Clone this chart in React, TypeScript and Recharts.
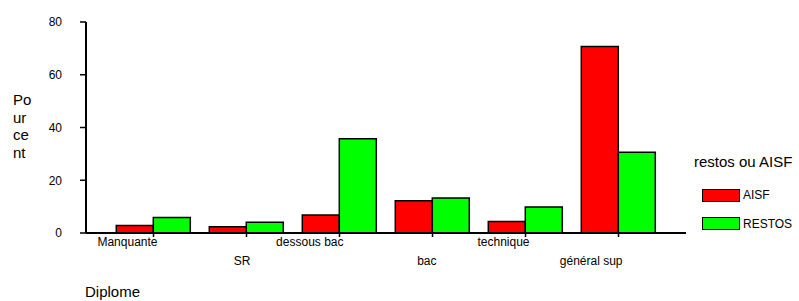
import { Bar, BarChart, Legend, XAxis, YAxis } from "recharts";

const categories = ["Manquante", "SR", "dessous bac", "bac", "technique", "général sup"];
const aisf = [2.8, 2.4, 6.8, 12.2, 4.4, 70.7];
const restos = [5.9, 4.1, 35.7, 13.3, 9.9, 30.6];
const yTicks = [0, 20, 40, 60, 80];

const data = categories.map((c, i) => ({ cat: c, AISF: aisf[i], RESTOS: restos[i] }));

const font = "'Liberation Sans', Arial, sans-serif";

function StaggerTick(props: any) {
	const { x, y, payload, index } = props;
	return (
		<text
			x={x + 4}
			y={y}
			dy={index % 2 === 0 ? 9 : 28}
			textAnchor="end"
			fontSize={12}
			fontFamily={font}
			fill="#000"
		>
			{payload.value}
		</text>
	);
}

function YTitle(props: any) {
	const parts = ["Po", "ur", "ce", "nt"];
	return (
		<text x={13} y={105} fontSize={15} fontFamily={font} fill="#000">
			{parts.map((p, i) => (
				<tspan key={p} x={13} y={105 + i * 17.5}>
					{p}
				</tspan>
			))}
		</text>
	);
}

function XTitle(props: any) {
	const { viewBox } = props;
	return (
		<text x={viewBox.x - 1} y={viewBox.y + 64} fontSize={15} fontFamily={font} fill="#000">
			Diplome
		</text>
	);
}

function LegendBox(props: any) {
	const { payload } = props;
	return (
		<div style={{ fontFamily: font, color: "#000", position: "relative" }}>
			<div style={{ fontSize: 15, lineHeight: "18px", whiteSpace: "nowrap" }}>restos ou AISF</div>
			{(payload ?? []).map((p: any, i: number) => (
				<div
					key={p.value}
					style={{
						position: "absolute",
						left: 8,
						top: 35 + i * 28.5,
						display: "flex",
						alignItems: "center",
						fontSize: 12,
					}}
				>
					<span
						style={{
							display: "inline-block",
							width: 36,
							height: 11,
							background: p.color,
							border: "1px solid #000",
							marginRight: 3,
						}}
					/>
					{p.value}
				</div>
			))}
		</div>
	);
}

export default function App() {
	return (
		<div style={{ position: "absolute", left: 0, top: 0, background: "#fff" }}>
			<BarChart
				width={799}
				height={301}
				data={data}
				margin={{ top: 22, right: 113, bottom: 0, left: 0 }}
				barCategoryGap="10%"
				barGap={0}
			>
				<XAxis
					dataKey="cat"
					height={68}
					interval={0}
					padding={{ left: 21, right: 21 }}
					tick={<StaggerTick />}
					tickSize={4}
					tickMargin={0}
					axisLine={{ stroke: "#000", strokeWidth: 2 }}
					tickLine={{ stroke: "#000", strokeWidth: 1.5 }}
					label={<XTitle />}
				/>
				<XAxis
					xAxisId="top"
					orientation="top"
					dataKey="cat"
					height={0}
					tick={false}
					tickLine={false}
					axisLine={{ stroke: "#111", strokeWidth: 1.5 }}
				/>
				<YAxis
					width={86}
					domain={[0, 80]}
					ticks={yTicks}
					tickSize={6}
					tickMargin={18}
					tick={{ fontSize: 12, fontFamily: font, fill: "#000" }}
					axisLine={{ stroke: "#000", strokeWidth: 2 }}
					tickLine={{ stroke: "#000", strokeWidth: 1.5 }}
					label={<YTitle />}
				/>
				<YAxis
					yAxisId="right"
					orientation="right"
					width={0}
					domain={[0, 80]}
					tick={false}
					tickLine={false}
					axisLine={{ stroke: "#111", strokeWidth: 1.5 }}
				/>
				<Legend
					layout="vertical"
					align="center"
					verticalAlign="middle"
					content={<LegendBox />}
					wrapperStyle={{ position: "absolute", left: 694, top: 153, width: 105, height: 90 }}
				/>
				<Bar dataKey="AISF" fill="#ff0000" stroke="#000" strokeWidth={1.5} isAnimationActive={false} />
				<Bar dataKey="RESTOS" fill="#00ff00" stroke="#000" strokeWidth={1.5} isAnimationActive={false} />
			</BarChart>
		</div>
	);
}
